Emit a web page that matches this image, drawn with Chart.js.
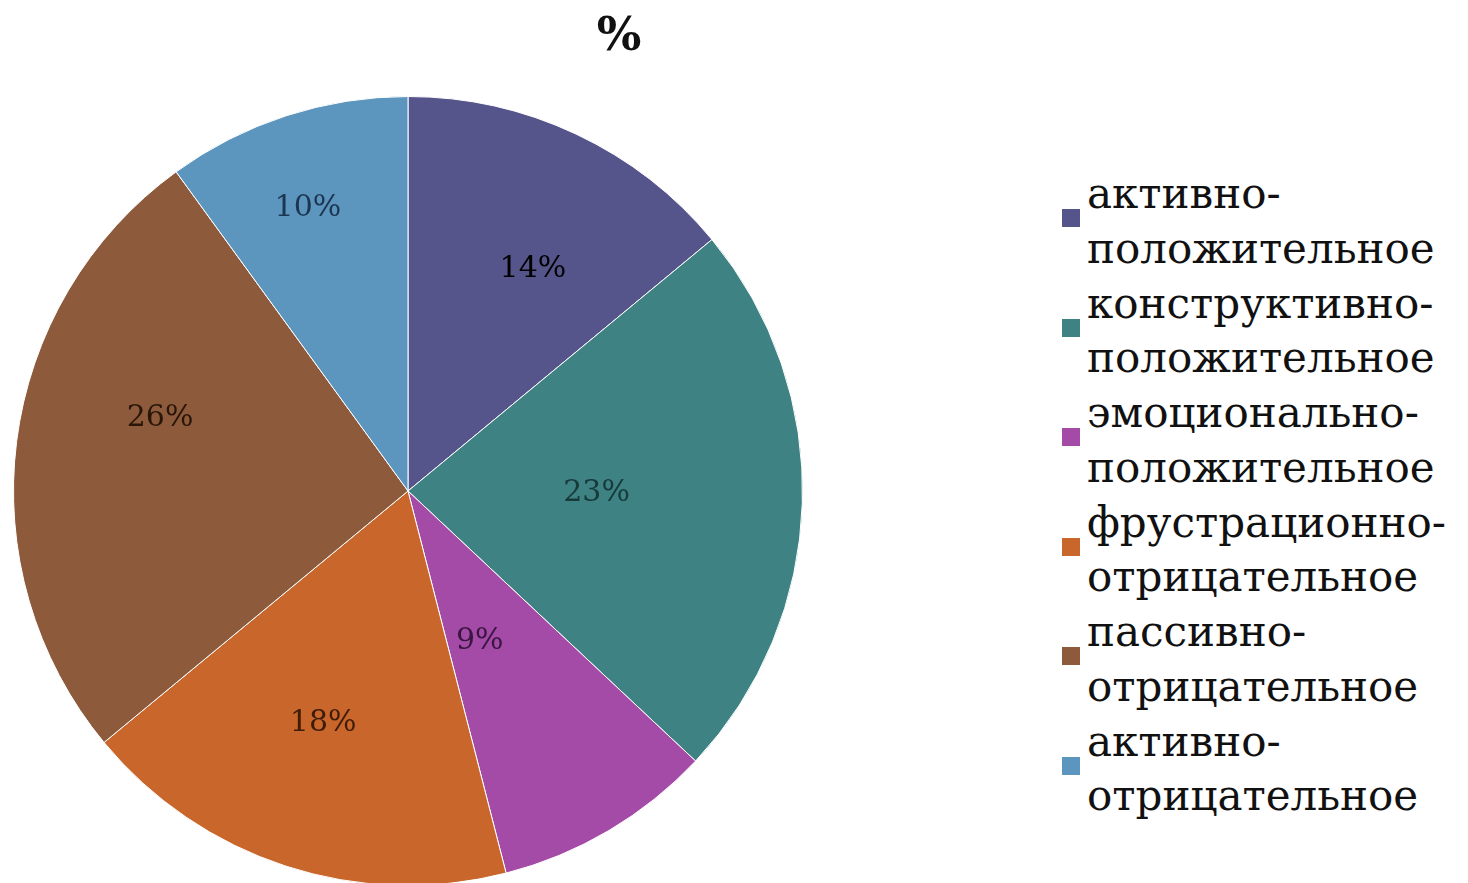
<!DOCTYPE html>
<html>
<head>
<meta charset="utf-8">
<script src="https://cdn.jsdelivr.net/npm/chart.js@4/dist/chart.umd.min.js"></script>
<style>
  html, body { margin: 0; padding: 0; background: #fff; width: 1468px; height: 883px; overflow: hidden; }
  #wrap { position: absolute; left: 0; top: 0; width: 816px; height: 890px; }
  #title { position: absolute; left: 569px; top: 6px; width: 100px; text-align: center;
           font-family: "DejaVu Serif", serif; font-weight: bold; font-size: 47px; color: #111; line-height: 56px; }
  #legend { position: absolute; left: 1062px; top: 167px; font-family: "DejaVu Serif", serif; color: #111; }
  .item { position: relative; height: 109.5px; }
  .box { position: absolute; left: 0; top: 42px; width: 18px; height: 18px; }
  .txt { position: absolute; left: 25px; top: 0; font-size: 42px; line-height: 54.75px; white-space: nowrap; }
</style>
</head>
<body>
<div id="wrap"><canvas id="c"></canvas></div>
<div id="title">%</div>
<div id="legend"></div>
<script>
const categories = [
  ["активно-", "положительное"],
  ["конструктивно-", "положительное"],
  ["эмоционально-", "положительное"],
  ["фрустрационно-", "отрицательное"],
  ["пассивно-", "отрицательное"],
  ["активно-", "отрицательное"]
];
const values = [14, 23, 9, 18, 26, 10];

// styling
const colors = ["#55558c", "#3f8283", "#a44ba8", "#c9662b", "#8d5b3b", "#5c95bd"];
const labelColors = ["#000000", "#163a3a", "#3a1540", "#3e1c08", "#2a1608", "#1c3550"];
const labelRadius = [0.645, 0.478, 0.421, 0.626, 0.655, 0.76];
const labelAngleShift = [4.2, -1.2, 5.0, 2.1, 9.2, -1.5]; // degrees

const labelPlugin = {
  id: 'sliceLabels',
  afterDatasetsDraw(chart) {
    const ctx = chart.ctx;
    const meta = chart.getDatasetMeta(0);
    ctx.save();
    ctx.font = '30px "DejaVu Serif", serif';
    ctx.textAlign = 'center';
    ctx.textBaseline = 'middle';
    meta.data.forEach((arc, i) => {
      const p = arc.getProps(['x', 'y', 'startAngle', 'endAngle', 'outerRadius'], true);
      const mid = (p.startAngle + p.endAngle) / 2 + labelAngleShift[i] * Math.PI / 180;
      const r = p.outerRadius * labelRadius[i];
      ctx.fillStyle = labelColors[i];
      ctx.fillText(values[i] + '%', p.x + Math.cos(mid) * r, p.y + Math.sin(mid) * r);
    });
    ctx.restore();
  }
};

const chart = new Chart(document.getElementById('c'), {
  type: 'pie',
  data: {
    labels: categories.map(c => c.join('')),
    datasets: [{
      data: values,
      backgroundColor: colors,
      borderColor: '#ffffff',
      borderWidth: 1
    }]
  },
  options: {
    responsive: true,
    maintainAspectRatio: false,
    animation: false,
    layout: { padding: { left: 13, right: 13, top: 96, bottom: 4 } },
    plugins: {
      legend: { display: false },
      title: { display: false },
      tooltip: { enabled: false }
    }
  },
  plugins: [labelPlugin]
});

const legend = document.getElementById('legend');
categories.forEach((c, i) => {
  const item = document.createElement('div');
  item.className = 'item';
  const box = document.createElement('div');
  box.className = 'box';
  box.style.background = colors[i];
  const txt = document.createElement('div');
  txt.className = 'txt';
  txt.innerHTML = c[0] + '<br>' + c[1];
  item.appendChild(box);
  item.appendChild(txt);
  legend.appendChild(item);
});
</script>
</body>
</html>
